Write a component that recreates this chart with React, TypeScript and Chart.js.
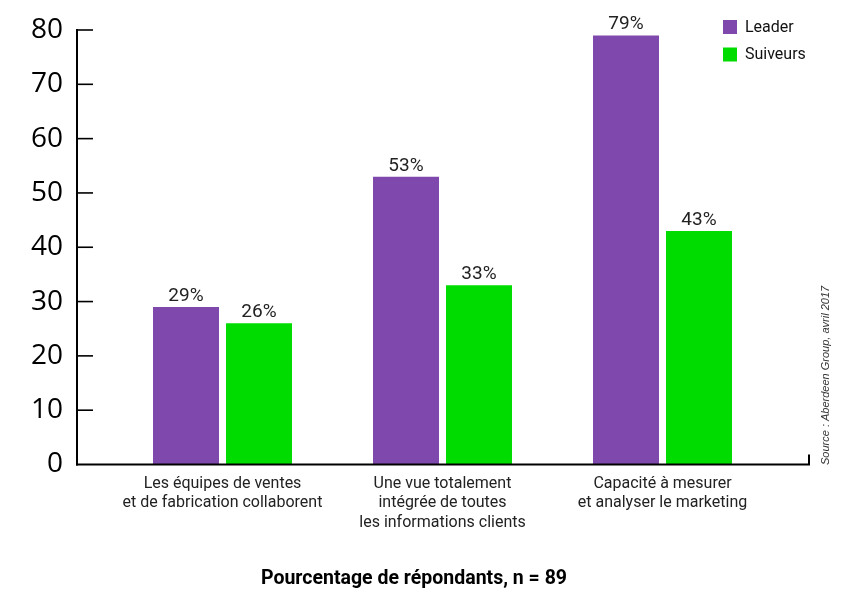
import React, { useEffect, useRef } from "react";
import { Chart, registerables } from "chart.js";

Chart.register(...registerables);

const categories: string[][] = [
  ["Les équipes de ventes", "et de fabrication collaborent"],
  ["Une vue totalement", "intégrée de toutes", "les informations clients"],
  ["Capacité à mesurer", "et analyser le marketing"],
];
const leaderValues = [29, 53, 79];
const suiveursValues = [26, 33, 43];
const seriesNames = ["Leader", "Suiveurs"];
const yTicks = [0, 10, 20, 30, 40, 50, 60, 70, 80];
const axisTitle = "Pourcentage de répondants, n = 89";
const sourceText = "Source : Aberdeen Group, avril 2017";

const PURPLE = "#7F48AC";
const GREEN = "#00DC00";

const decorPlugin = {
  id: "decor",
  afterDraw(chart: any) {
    const ctx = chart.ctx as CanvasRenderingContext2D;
    const y = chart.scales.y;
    const axisX = 77;
    const axisRight = 809;
    const y0 = y.getPixelForValue(0);
    const yTop = y.getPixelForValue(80);
    ctx.save();
    ctx.strokeStyle = "#000";
    ctx.lineWidth = 2;
    // y axis
    ctx.beginPath();
    ctx.moveTo(axisX, yTop - 1);
    ctx.lineTo(axisX, y0 + 1);
    ctx.stroke();
    // inner ticks
    ctx.lineWidth = 1.6;
    yTicks.forEach((v) => {
      if (v === 0) return;
      const py = y.getPixelForValue(v);
      ctx.beginPath();
      ctx.moveTo(axisX, py);
      ctx.lineTo(axisX + 16, py);
      ctx.stroke();
    });
    // x axis
    ctx.lineWidth = 2;
    ctx.beginPath();
    ctx.moveTo(axisX - 1, y0);
    ctx.lineTo(axisRight, y0);
    ctx.lineTo(axisRight, y0 - 10);
    ctx.stroke();

    // data labels
    ctx.fillStyle = "#222";
    ctx.font = "19px Roboto";
    ctx.textAlign = "center";
    ctx.textBaseline = "alphabetic";
    chart.data.datasets.forEach((ds: any, di: number) => {
      const meta = chart.getDatasetMeta(di);
      meta.data.forEach((bar: any, i: number) => {
        ctx.fillText(ds.data[i] + "%", bar.x, bar.y - 6);
      });
    });

    // legend
    ctx.textAlign = "left";
    ctx.textBaseline = "middle";
    ctx.font = "16px Roboto";
    chart.data.datasets.forEach((ds: any, di: number) => {
      const top = 20 + di * 27.5;
      ctx.fillStyle = ds.backgroundColor;
      ctx.fillRect(723, top, 14, 14);
      ctx.fillStyle = "#111";
      ctx.fillText(ds.label, 745, top + 7.5);
    });

    // axis title
    ctx.font = "bold 19.5px Roboto";
    ctx.fillStyle = "#000";
    ctx.textAlign = "center";
    ctx.fillText(axisTitle, 414, 579);

    // source
    ctx.translate(826, 465);
    ctx.rotate(-Math.PI / 2);
    ctx.font = "italic 11px 'Liberation Sans'";
    ctx.fillStyle = "#333";
    ctx.textAlign = "left";
    ctx.fillText(sourceText, 0, 0);
    ctx.restore();
  },
};

export default function App() {
  const ref = useRef<HTMLCanvasElement | null>(null);
  useEffect(() => {
    if (!ref.current) return;
    const chart = new Chart(ref.current, {
      type: "bar",
      data: {
        labels: categories,
        datasets: [
          {
            label: seriesNames[0],
            data: leaderValues,
            backgroundColor: PURPLE,
            categoryPercentage: 0.6636,
            barPercentage: 0.904,
          },
          {
            label: seriesNames[1],
            data: suiveursValues,
            backgroundColor: GREEN,
            categoryPercentage: 0.6636,
            barPercentage: 0.904,
          },
        ],
      },
      options: {
        responsive: false,
        animation: false,
        layout: { padding: { left: 12.5, right: 77.5, top: 30, bottom: 50.5 } },
        plugins: { legend: { display: false }, tooltip: { enabled: false } },
        scales: {
          x: {
            grid: { display: false, drawTicks: false },
            border: { display: false },
            ticks: {
              color: "#222",
              font: { family: "Roboto", size: 16, lineHeight: 1.22 },
              padding: 9.5,
              maxRotation: 0,
              autoSkip: false,
            },
            afterFit: (s: any) => {
              s.height = 90;
              s.paddingLeft = 0;
              s.paddingRight = 0;
              s.paddingTop = 0;
              s.paddingBottom = 0;
            },
          },
          y: {
            min: 0,
            max: 80,
            grid: { display: false, drawTicks: false },
            border: { display: false },
            ticks: {
              stepSize: 10,
              color: "#000",
              font: { family: "'Open Sans'", size: 28 },
              padding: 49.5,
            },
            afterFit: (s: any) => {
              s.width = 100;
              s.paddingLeft = 0;
              s.paddingRight = 0;
              s.paddingTop = 0;
              s.paddingBottom = 0;
            },
          },
        },
      },
      plugins: [decorPlugin],
    });
    return () => chart.destroy();
  }, []);
  return (
    <div style={{ position: "fixed", left: 0, top: 0, width: 850, height: 605, background: "#fff" }}>
      <canvas ref={ref} width={850} height={605} />
    </div>
  );
}
